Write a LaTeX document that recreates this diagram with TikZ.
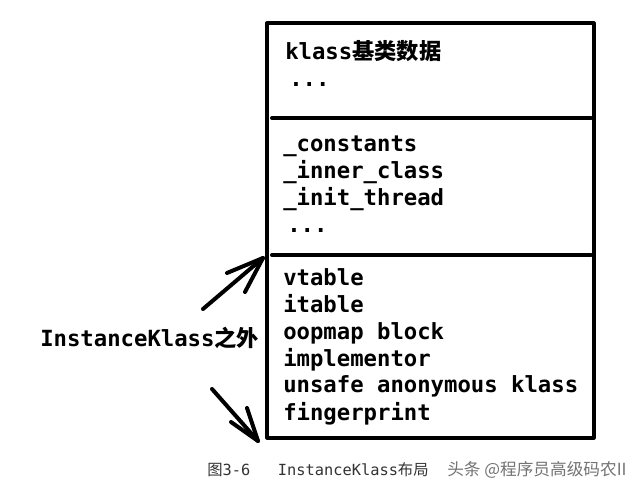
\documentclass[tikz,border=0pt]{standalone}
\usepackage{fontspec}
\setmonofont{DejaVu Sans Mono}
\newfontfamily\cjk{Noto Sans CJK SC}
\begin{document}
\begin{tikzpicture}[x=0.75pt,y=-0.75pt,
  boxline/.style={line width=2.4pt,line join=round},
  divline/.style={line width=3pt,line cap=round},
  arrline/.style={line width=3pt,line cap=round,line join=round},
  item/.style={anchor=base west,inner sep=0pt,font=\fontsize{16.7pt}{20pt}\ttfamily\bfseries},
  captxt/.style={anchor=base west,inner sep=0pt,text=black!80,font=\fontsize{11.5pt}{14pt}\ttfamily},
  wmtxt/.style={anchor=base west,inner sep=0pt,text=black!55,font=\fontsize{12.5pt}{14pt}\cjk}]
\useasboundingbox[fill=white] (0,0) rectangle (640,498);
% box
\coordinate (tl) at (267,23);
\coordinate (br) at (594,438);
\draw[boxline] (tl) rectangle (br);
\coordinate (d1a) at (272,118); \coordinate (d1b) at (591,118);
\coordinate (d2a) at (272,255); \coordinate (d2b) at (591,255);
\draw[divline] (d1a) -- (d1b);
\draw[divline] (d2a) -- (d2b);
% section 1
\node[item] (k1) at (285,60) {klass{\cjk\bfseries 基类数据}};
\node[item] (k2) at (289,87) {...};
% section 2
\node[item] (c1) at (283,152) {\_constants};
\node[item] (c2) at (283,179) {\_inner\_class};
\node[item] (c3) at (283,206) {\_init\_thread};
\node[item] (c4) at (287,233) {...};
% section 3
\node[item] (v1) at (283,286) {vtable};
\node[item] (v2) at (283,313) {itable};
\node[item] (v3) at (283,340) {oopmap block};
\node[item] (v4) at (283,367) {implementor};
\node[item] (v5) at (283,393) {unsafe anonymous klass};
\node[item] (v6) at (283,421) {fingerprint};
% left label
\node[item] (lab) at (40,347) {InstanceKlass{\cjk 之外}};
% arrows
\coordinate (a1t) at (203,309); \coordinate (a1h) at (263,258);
\coordinate (a1b1) at (227,273); \coordinate (a1b2) at (245,292);
\draw[arrline] (a1t) -- (a1h);
\draw[arrline] (a1b1) -- (a1h) -- (a1b2);
\coordinate (a2t) at (212,389); \coordinate (a2h) at (258,441);
\coordinate (a2b1) at (231,422); \coordinate (a2b2) at (247,408);
\draw[arrline] (a2t) -- (a2h);
\draw[arrline] (a2b1) -- (a2h) -- (a2b2);
% caption
\node[captxt] (c0) at (207,476) {{\cjk 图}3-6\ \ \ InstanceKlass{\cjk 布局}};
\node[wmtxt] (wm) at (447,476) {头条 @程序员高级码农II};
\end{tikzpicture}
\end{document}
